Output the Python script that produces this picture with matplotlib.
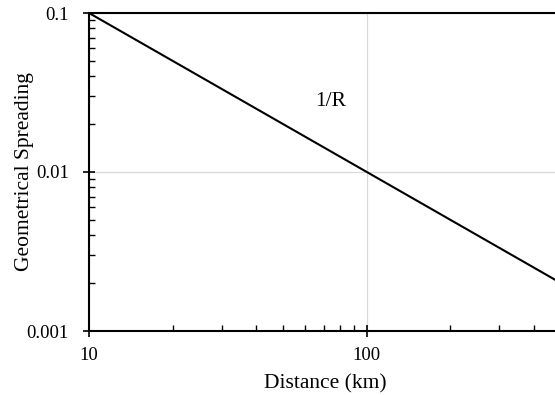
import numpy as np
import matplotlib
matplotlib.use("Agg")
import matplotlib.pyplot as plt
from matplotlib.ticker import LogLocator, FixedLocator, FixedFormatter, NullFormatter

plt.rcParams['font.family'] = ['Liberation Serif', 'DejaVu Serif']

# Distance range (km) and geometric spreading 1/R
distance = [10, 500]
spreading = [1.0 / d for d in distance]

x_ticks = [10, 100]
x_tick_labels = ["10", "100"]
y_ticks = [0.001, 0.01, 0.1]
y_tick_labels = ["0.001", "0.01", "0.1"]

curve_label = "1/R"
curve_label_pos = (74.3, 0.0276)

fig = plt.figure(figsize=(5.55, 3.95), dpi=100)
ax = fig.add_axes([89 / 555, 1 - 331 / 395, (561 - 89) / 555, (331 - 13) / 395])

ax.set_xscale("log")
ax.set_yscale("log")
ax.set_xlim(10, 500)
ax.set_ylim(0.001, 0.1)

ax.plot(distance, spreading, color="black", lw=1.5, solid_capstyle="butt", zorder=3)

ax.xaxis.set_major_locator(FixedLocator(x_ticks))
ax.xaxis.set_major_formatter(FixedFormatter(x_tick_labels))
ax.yaxis.set_major_locator(FixedLocator(y_ticks))
ax.yaxis.set_major_formatter(FixedFormatter(y_tick_labels))
ax.xaxis.set_minor_locator(LogLocator(base=10, subs=np.arange(2, 10)))
ax.yaxis.set_minor_locator(LogLocator(base=10, subs=np.arange(2, 10)))
ax.xaxis.set_minor_formatter(NullFormatter())
ax.yaxis.set_minor_formatter(NullFormatter())

ax.grid(True, which="major", color="#d9d9d9", lw=0.9, zorder=0)
ax.set_axisbelow(True)

for side in ("left", "bottom", "top"):
    ax.spines[side].set_linewidth(1.5)
ax.spines["right"].set_visible(False)

ax.tick_params(which="major", direction="inout", length=9, width=1.2,
               labelsize=13.5, top=False, right=False)
ax.tick_params(axis="y", which="major", pad=10)
ax.tick_params(axis="x", which="major", pad=7)
ax.tick_params(which="minor", direction="in", length=4, width=1.0,
               top=False, right=False)

ax.set_xlabel("Distance (km)", fontsize=15.5)
ax.set_ylabel("Geometrical Spreading", fontsize=15.5)
ax.xaxis.set_label_coords(0.5, -0.137)
ax.yaxis.set_label_coords(-0.117, 0.5)

ax.text(*curve_label_pos, curve_label, fontsize=15.5, ha="center", va="center")

fig.savefig("out.png", dpi=100)
